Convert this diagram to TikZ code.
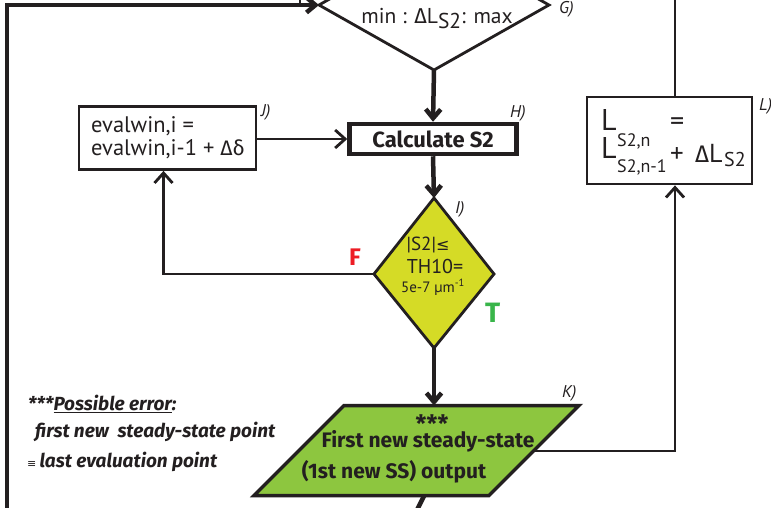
\documentclass[tikz,border=0pt]{standalone}
\usepackage{fontspec}
\setmainfont{PT Sans}
\newfontfamily\grk{Fira Sans}
\newfontfamily\fb{Fira Sans}
\newfontfamily\sym{DejaVu Sans}
\usetikzlibrary{arrows.meta}
\definecolor{ink}{HTML}{231F20}
\definecolor{dyel}{HTML}{D5DB26}
\definecolor{kgreen}{HTML}{8DC63F}
\definecolor{fred}{HTML}{ED1C24}
\definecolor{tgreen}{HTML}{39B54A}
\begin{document}
\begin{tikzpicture}[x=1pt,y=-1pt,
  thk/.style={draw=ink,line width=4.5pt},
  thn/.style={draw=ink,line width=2.8pt},
  tipT/.style={-{Straight Barb[length=9pt,width=15pt]}},
  tipt/.style={-{Straight Barb[length=10pt,width=18pt]}},
  lab/.style={text=ink,inner sep=0pt,font=\itshape\fontsize{17}{17}\selectfont},
  txt/.style={text=ink,inner sep=0pt},
  box/.style={draw=ink,line width=2.8pt,inner sep=0pt}]
\useasboundingbox (0,0) rectangle (771,507);
\clip (0,0) rectangle (771,507);
\fill[white] (0,0) rectangle (771,507);

% ---- diamond G (top, cropped)
\coordinate (Gl) at (319,5);
\coordinate (Gr) at (549,5);
\coordinate (Gb) at (434,70);
\coordinate (Gt) at (434,-60);
\draw[thn,line join=miter] (Gl) -- (Gb) -- (Gr) -- (Gt) -- cycle;
\node[txt,anchor=base,font=\fontsize{21.5}{21.5}\selectfont] (Gtxt) at (437,23)
  {min : {\grk Δ}L\raisebox{-5pt}{S2}: max};
\node[lab,anchor=base west] (labG) at (559,13) {G)};

% ---- box H
\node[draw=ink,line width=4.5pt,minimum width=167pt,minimum height=30pt,inner sep=0pt,
  text=ink,font=\fb\bfseries\fontsize{22}{22}\selectfont] (H) at (433,139) {Calculate S2};
\node[lab,anchor=base west] (labH) at (510,117) {H)};

% ---- box J
\node[box,minimum width=177pt,minimum height=63pt] (J) at (167.5,138) {};
\node[txt,anchor=base west,font=\fontsize{22.5}{22.5}\selectfont] (J1) at (91,132) {evalwin,i =};
\node[txt,anchor=base west,font=\fontsize{22.5}{22.5}\selectfont] (J2) at (91,155) {evalwin,i-1 + {\grk\fontsize{21}{21}\selectfont Δδ}};
\node[lab,anchor=base west] (labJ) at (261,116) {J)};

% ---- box L
\node[box,minimum width=165pt,minimum height=87pt] (L) at (669.5,140.5) {};
\node[txt,anchor=base west,font=\fontsize{30}{30}\selectfont] (L1) at (601,130) {L};
\node[txt,anchor=base west,font=\fontsize{18}{18}\selectfont] (L1s) at (617,146) {S2,n};
\node[txt,anchor=base west,font=\fontsize{28}{28}\selectfont] (Leq) at (670,130) {=};
\node[txt,anchor=base west,font=\fontsize{30}{30}\selectfont] (L2) at (601,158) {L};
\node[txt,anchor=base west,font=\fontsize{18}{18}\selectfont] (L2s) at (617,172) {S2,n-1};
\node[txt,anchor=base west,font=\fontsize{27}{27}\selectfont] (Lplus) at (670,162) {+};
\node[txt,anchor=base west,font=\fontsize{26}{26}\selectfont] (Ld) at (695,162) {{\grk\fontsize{24}{24}\selectfont Δ}L};
\node[txt,anchor=base west,font=\fontsize{20}{20}\selectfont] (Lds) at (724,166) {S2};
\node[lab,anchor=base west] (labL) at (759,110) {L)};

% ---- diamond I
\coordinate (It) at (434,198);
\coordinate (Il) at (374,274);
\coordinate (Ir) at (494,274);
\coordinate (Ib) at (434,348);
\filldraw[fill=dyel,draw=ink,line width=2.8pt,line join=miter] (It) -- (Ir) -- (Ib) -- (Il) -- cycle;
\node[txt,anchor=base,font=\fontsize{19}{19}\selectfont] (I1) at (428,250) {|S2|{\sym\fontsize{16}{16}\selectfont ≤}};
\node[txt,anchor=base,font=\fontsize{20}{20}\selectfont] (I2) at (435,273) {TH10=};
\node[txt,anchor=base,font=\fontsize{15}{15}\selectfont] (I3) at (433,292) {5e-7 µm\textsuperscript{-1}};
\node[lab,anchor=base west] (labI) at (455,213) {I)};
\node[inner sep=0pt,anchor=base west,text=fred,font=\fb\bfseries\fontsize{24}{24}\selectfont] (F) at (349,265) {F};
\node[inner sep=0pt,anchor=base west,text=tgreen,font=\fb\bfseries\fontsize{28}{28}\selectfont] (T) at (485,322) {T};

% ---- parallelogram K
\coordinate (Ktl) at (344,405.5);
\coordinate (Ktr) at (579,405.5);
\coordinate (Kbr) at (489,495.5);
\coordinate (Kbl) at (254,495.5);
\coordinate (Ktop) at (434,405.5);
\coordinate (Kr) at (535,451);
\filldraw[fill=kgreen,draw=ink,line width=3.5pt,line join=miter] (Ktl) -- (Ktr) -- (Kbr) -- (Kbl) -- cycle;
\node[txt,anchor=base,font=\fb\bfseries\fontsize{24}{24}\selectfont] (K0) at (432,432) {\smash{***}};
\node[txt,anchor=base,font=\fb\bfseries\fontsize{21}{21}\selectfont] (K1) at (428,447) {First new steady-state};
\node[txt,anchor=base,font=\fb\bfseries\fontsize{21}{21}\selectfont] (K2) at (394,478) {(1st new SS) output};
\node[lab,anchor=base west] (labK) at (562,397) {K)};

% ---- annotation
\node[txt,anchor=base west,font=\fb\bfseries\itshape\fontsize{19}{19}\selectfont] (A1) at (28,410) {***\underline{Possible error}:};
\node[txt,anchor=base west,font=\fb\bfseries\itshape\fontsize{19}{19}\selectfont] (A2) at (35,437) {first new\ \ steady-state point};
\node[txt,anchor=base west,font=\fb\bfseries\itshape\fontsize{19}{19}\selectfont] (A3) at (27,467) {{\sym\upshape\mdseries\fontsize{11}{11}\selectfont ≡}\,last evaluation point};

% ---- connectors
\coordinate (LoopB) at (7,520);
\coordinate (TickT) at (300,-6);
\coordinate (TickB) at (300,6);
\coordinate (Ltop) at (675,-6);
\coordinate (Kout) at (424,496);
\coordinate (KoutE) at (416,512);
\draw[thk,tipT] (LoopB) |- (Gl);
\draw[thn] (TickT) -- (TickB);
\draw[thk,tipT] (Gb) -- (H.north);
\draw[thk,tipT] (H.south) -- (It);
\draw[thk,tipT] (Ib) -- (Ktop);
\draw[thn,tipt] (J.east |- H.west) -- (H.west);
\draw[thn,tipt] (Il) -| ([xshift=-4pt]J.south);
\draw[thn,tipt] (Kr) -| ([xshift=5.5pt]L.south);
\draw[thn] ([xshift=5.5pt]L.north) -- (Ltop);
\draw[thk] (Kout) -- (KoutE);
\end{tikzpicture}
\end{document}
